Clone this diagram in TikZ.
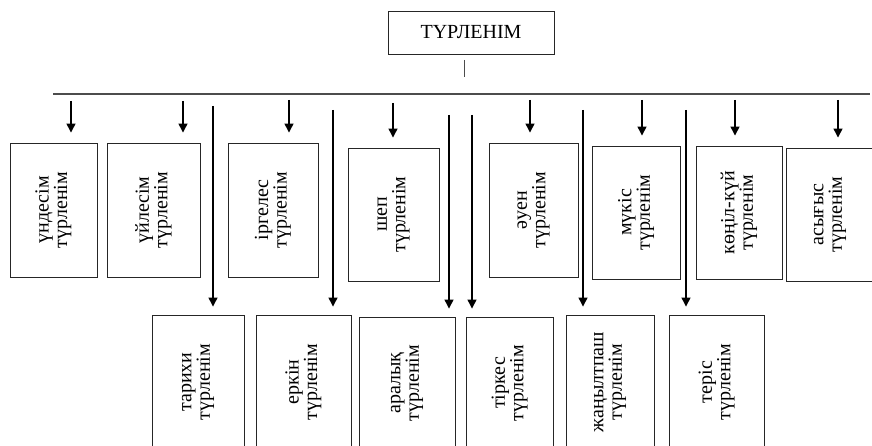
\documentclass[tikz,border=0pt]{standalone}
\usepackage{fontspec}
\setmainfont{Liberation Serif}
\usetikzlibrary{arrows.meta, calc}

\begin{document}
\begin{tikzpicture}[
  x=1pt, y=-1pt,
  root/.style={draw=black!85, line width=0.9pt, minimum width=166pt,
               minimum height=43pt, inner sep=0pt, font=\fontsize{20}{24}\selectfont},
  vbox/.style={draw=black!85, line width=0.9pt, rotate=90, inner sep=0pt,
               align=center, font=\fontsize{20}{18.5}\selectfont},
  arr/.style={-{Triangle[width=9pt,length=9pt]}, line width=1.3pt},
  bus/.style={line width=2.4pt, black!70}
]
  \useasboundingbox (0,0) rectangle (872,446);

  \node[root] (root) at (471,32.5) {ТҮРЛЕНІМ};

  % upper row
  \node[vbox, minimum width=134pt, minimum height=87pt] (u1) at (53.5,210)  {үндесім\\түрленім};
  \node[vbox, minimum width=134pt, minimum height=93pt] (u2) at (153.5,210) {үйлесім\\түрленім};
  \node[vbox, minimum width=134pt, minimum height=90pt] (u3) at (273,210)   {іргелес\\түрленім};
  \node[vbox, minimum width=133pt, minimum height=91pt] (u4) at (393.5,214.5) {шеп\\түрленім};
  \node[vbox, minimum width=134pt, minimum height=89pt] (u5) at (533.5,210) {әуен\\түрленім};
  \node[vbox, minimum width=133pt, minimum height=88pt] (u6) at (636,212.5) {мүкіс\\түрленім};
  \node[vbox, minimum width=133pt, minimum height=86pt] (u7) at (739,212.5) {көңіл-күй\\түрленім};
  \node[vbox, minimum width=133pt, minimum height=88pt] (u8) at (830,214.5) {асығыс\\түрленім};

  % lower row
  \node[vbox, minimum width=134pt, minimum height=92pt] (d1) at (198,382)   {тарихи\\түрленім};
  \node[vbox, minimum width=134pt, minimum height=95pt] (d2) at (303.5,382) {еркін\\түрленім};
  \node[vbox, minimum width=132pt, minimum height=96pt] (d3) at (407,383)   {аралық\\түрленім};
  \node[vbox, minimum width=132pt, minimum height=87pt] (d4) at (509.5,383) {тіркес\\түрленім};
  \node[vbox, minimum width=134pt, minimum height=88pt] (d5) at (610,382)   {жаңылтпаш\\түрленім};
  \node[vbox, minimum width=134pt, minimum height=95pt] (d6) at (716.5,382) {теріс\\түрленім};

  % stub and bus line
  \coordinate (stub) at (464,60);
  \draw[black!70, line width=1pt] (stub) -- ++(0,17);
  \coordinate (busl) at (53,94);
  \coordinate (busr) at (870,94);
  \draw[bus] (busl) -- (busr);

  % short arrows to the upper row
  \coordinate (a1) at (71,101);
  \coordinate (a2) at (183,101);
  \coordinate (a3) at (289,100);
  \coordinate (a4) at (393,103);
  \coordinate (a5) at (530,100);
  \coordinate (a6) at (642,100);
  \coordinate (a7) at (735,100);
  \coordinate (a8) at (838,100);
  \draw[arr, shorten >=10pt] (a1) -- (a1 |- u1.east);
  \draw[arr, shorten >=10pt] (a2) -- (a2 |- u2.east);
  \draw[arr, shorten >=10pt] (a3) -- (a3 |- u3.east);
  \draw[arr, shorten >=10pt] (a4) -- (a4 |- u4.east);
  \draw[arr, shorten >=10pt] (a5) -- (a5 |- u5.east);
  \draw[arr, shorten >=10pt] (a6) -- (a6 |- u6.east);
  \draw[arr, shorten >=10pt] (a7) -- (a7 |- u7.east);
  \draw[arr, shorten >=10pt] (a8) -- (a8 |- u8.east);

  % long arrows to the lower row
  \coordinate (l1) at (213,106);
  \coordinate (l2) at (333,110);
  \coordinate (l3) at (449,115);
  \coordinate (l4) at (472,115);
  \coordinate (l5) at (583,110);
  \coordinate (l6) at (686,110);
  \draw[arr, shorten >=8pt] (l1) -- (l1 |- d1.east);
  \draw[arr, shorten >=8pt] (l2) -- (l2 |- d2.east);
  \draw[arr, shorten >=8pt] (l3) -- (l3 |- d3.east);
  \draw[arr, shorten >=8pt] (l4) -- (l4 |- d4.east);
  \draw[arr, shorten >=8pt] (l5) -- (l5 |- d5.east);
  \draw[arr, shorten >=8pt] (l6) -- (l6 |- d6.east);
\end{tikzpicture}
\end{document}
